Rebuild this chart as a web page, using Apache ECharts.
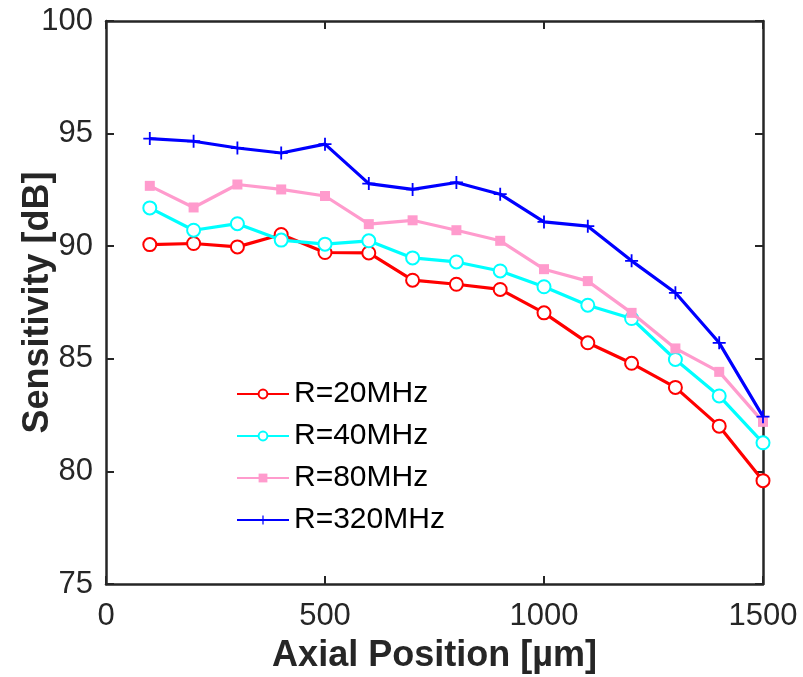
<!DOCTYPE html>
<html>
<head>
<meta charset="utf-8">
<title>Sensitivity vs Axial Position</title>
<script src="https://cdn.jsdelivr.net/npm/echarts@6/dist/echarts.min.js"></script>
<style>
  html, body { margin: 0; padding: 0; background: #ffffff; }
  #chart { width: 803px; height: 677px; }
</style>
</head>
<body>
<div id="chart"></div>
<script>
// Axial positions (µm) at which sensitivity was measured
const axialPosition = [100, 200, 300, 400, 500, 600, 700, 800, 900, 1000, 1100, 1200, 1300, 1400, 1500];

// Sensitivity (dB) for each line rate
const sens20MHz  = [90.07, 90.12, 89.97, 90.52, 89.72, 89.70, 88.49, 88.31, 88.08, 87.04, 85.71, 84.80, 83.73, 82.01, 79.59];
const sens40MHz  = [91.70, 90.71, 91.00, 90.27, 90.09, 90.24, 89.48, 89.30, 88.90, 88.20, 87.38, 86.79, 84.97, 83.35, 81.27];
const sens80MHz  = [92.68, 91.72, 92.74, 92.52, 92.23, 90.98, 91.15, 90.71, 90.24, 88.98, 88.45, 87.04, 85.46, 84.42, 82.20];
const sens320MHz = [94.78, 94.66, 94.36, 94.14, 94.53, 92.78, 92.52, 92.83, 92.31, 91.08, 90.89, 89.35, 87.93, 85.71, 82.43];

const seriesNames = ['R=20MHz', 'R=40MHz', 'R=80MHz', 'R=320MHz'];

// Axis ranges and tick spacing
const xRange = { min: 0, max: 1500, interval: 500 };
const yRange = { min: 75, max: 100, interval: 5 };

const FONT = "'Liberation Sans', Arial, Helvetica, sans-serif";
const AXIS_COLOR = '#262626';

const pairs = (ys) => axialPosition.map((x, i) => [x, ys[i]]);

// Plus-shaped marker built from two filled bars
const plusSymbol = 'path://M-1,-0.14L1,-0.14L1,0.14L-1,0.14Z M-0.14,-1L0.14,-1L0.14,1L-0.14,1Z';

const chart = echarts.init(document.getElementById('chart'), null, { renderer: 'canvas' });

const baseAxisLine = { show: true, onZero: false, lineStyle: { color: AXIS_COLOR, width: 2.5 } };
const baseTick = { show: true, inside: true, length: 8, lineStyle: { color: AXIS_COLOR, width: 2 } };
const plainNumber = (v) => String(v);

const option = {
  backgroundColor: '#ffffff',
  animation: false,
  grid: { left: 106, right: 40, top: 21, bottom: 93, containLabel: false, outerBoundsMode: 'none' },
  legend: {
    orient: 'vertical',
    left: 231,
    top: 374,
    itemWidth: 52,
    itemHeight: 11,
    itemGap: 12,
    data: seriesNames,
    textStyle: { fontFamily: FONT, fontSize: 30, color: '#000000', lineHeight: 30 }
  },
  xAxis: [
    {
      type: 'value', position: 'bottom',
      min: xRange.min, max: xRange.max, interval: xRange.interval,
      name: 'Axial Position [µm]', nameLocation: 'middle', nameGap: 54, nameMoveOverlap: false,
      nameTextStyle: { fontFamily: FONT, fontSize: 36, fontWeight: 'bold', color: AXIS_COLOR },
      axisLine: baseAxisLine, axisTick: baseTick,
      axisLabel: { fontFamily: FONT, fontSize: 31, color: AXIS_COLOR, margin: 17, formatter: plainNumber },
      splitLine: { show: false }
    },
    {
      type: 'value', position: 'top',
      min: xRange.min, max: xRange.max, interval: xRange.interval,
      axisLine: baseAxisLine, axisTick: baseTick,
      axisLabel: { show: false }, splitLine: { show: false }
    }
  ],
  yAxis: [
    {
      type: 'value', position: 'left',
      min: yRange.min, max: yRange.max, interval: yRange.interval,
      name: 'Sensitivity [dB]', nameLocation: 'middle', nameGap: 50, nameMoveOverlap: false,
      nameTextStyle: { fontFamily: FONT, fontSize: 36, fontWeight: 'bold', color: AXIS_COLOR },
      axisLine: baseAxisLine, axisTick: baseTick,
      axisLabel: { fontFamily: FONT, fontSize: 31, color: AXIS_COLOR, margin: 13, formatter: plainNumber },
      splitLine: { show: false }
    },
    {
      type: 'value', position: 'right',
      min: yRange.min, max: yRange.max, interval: yRange.interval,
      axisLine: baseAxisLine, axisTick: baseTick,
      axisLabel: { show: false }, splitLine: { show: false }
    }
  ],
  series: [
    {
      name: seriesNames[0], type: 'line', data: pairs(sens20MHz),
      symbol: 'emptyCircle', symbolSize: 13, showAllSymbol: true,
      lineStyle: { color: '#ff0000', width: 3.2 },
      itemStyle: { color: '#ff0000', borderColor: '#ff0000', borderWidth: 2.5 },
      z: 2
    },
    {
      name: seriesNames[1], type: 'line', data: pairs(sens40MHz),
      symbol: 'emptyCircle', symbolSize: 13, showAllSymbol: true,
      lineStyle: { color: '#00ffff', width: 3.2 },
      itemStyle: { color: '#00ffff', borderColor: '#00ffff', borderWidth: 2.5 },
      z: 3
    },
    {
      name: seriesNames[2], type: 'line', data: pairs(sens80MHz),
      symbol: 'rect', symbolSize: 10, showAllSymbol: true,
      lineStyle: { color: '#ff9bcd', width: 3.2 },
      itemStyle: { color: '#ff9bcd' },
      z: 4
    },
    {
      name: seriesNames[3], type: 'line', data: pairs(sens320MHz),
      symbol: plusSymbol, symbolSize: 13, showAllSymbol: true,
      lineStyle: { color: '#0000ff', width: 3.2 },
      itemStyle: { color: '#0000ff' },
      z: 5
    }
  ]
};

chart.setOption(option);
</script>
</body>
</html>
